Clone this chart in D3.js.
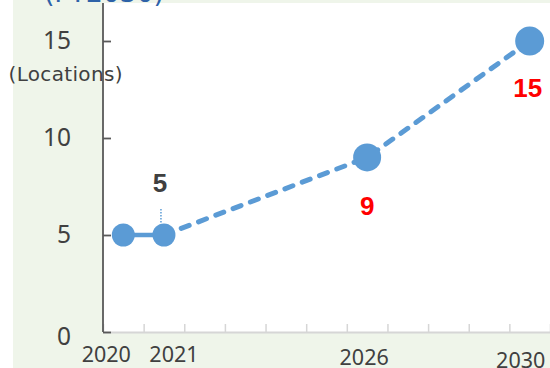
<!DOCTYPE html>
<html>
<head>
<meta charset="utf-8">
<script src="https://cdn.jsdelivr.net/npm/d3@7"></script>
<style>
  html, body { margin: 0; padding: 0; background: #ffffff; }
  svg { display: block; }
</style>
</head>
<body>
<svg id="chart" width="550" height="368"></svg>
<script>
// ---- data ----
const years = [2020, 2021, 2026, 2030];
const locations = [5, 5, 9, 15];
const actualCount = 2;               // first two points are actual results
const yTicks = [0, 5, 10, 15];
const xLabelYears = [2020, 2021, 2026, 2030];
const yAxisUnit = "(Locations)";
const titleText = "(FY2030)";

// ---- styles ----
const markerRadius = [11.5, 11.5, 14, 14.5];
const labelColors = ["#404040", "#404040", "#ff0000", "#ff0000"];
const xLabelDx = [-17, 10, -3, -9];
const xLabelDy = [0, 0, 3, 6];
const blue = "#5b9bd5";
const bg = "#eff5ea";

const svg = d3.select("#chart");
const W = 550, H = 368;

const x = d3.scaleLinear().domain([2019.5, 2030.5]).range([103, 550]);
const y = d3.scaleLinear().domain([0, 15]).range([332, 41]);

// background
svg.append("rect").attr("x", 13).attr("y", 0).attr("width", W - 13).attr("height", H).attr("fill", bg);
svg.append("rect").attr("x", x(2019.5)).attr("y", 3).attr("width", W - x(2019.5)).attr("height", y(0) - 3).attr("fill", "#ffffff");

// title (mostly cut off at top)
svg.append("text").attr("x", 44).attr("y", 2)
  .attr("font-family", "DejaVu Sans").attr("font-size", 27).attr("fill", "#2e62a8")
  .attr("textLength", 120)
  .text(titleText);

// x axis: ticks between categories, pointing up
const xTickVals = d3.range(2019.5, 2031, 1);
const xAxis = svg.append("g").attr("transform", `translate(0,${y(0)})`)
  .call(d3.axisBottom(x).tickValues(xTickVals).tickSize(-8).tickSizeOuter(0).tickFormat(""));
xAxis.select(".domain").attr("stroke", "#d6d6d6").attr("stroke-width", 2);
xAxis.selectAll(".tick line").attr("stroke", "#d6d6d6").attr("stroke-width", 1.5);

// x labels
svg.append("g").selectAll("text").data(xLabelYears).join("text")
  .attr("x", (d, i) => x(d) + xLabelDx[i])
  .attr("y", (d, i) => 362 + xLabelDy[i])
  .attr("text-anchor", "middle")
  .attr("font-family", "Noto Sans").attr("font-size", 21.5).attr("fill", "#404040")
  .text(d => d);

// y axis
const yAxis = svg.append("g").attr("transform", `translate(${x(2019.5)},0)`)
  .call(d3.axisLeft(y).tickValues(yTicks).tickSize(-8).tickSizeOuter(0).tickPadding(32));
yAxis.select(".domain").remove();
yAxis.append("line").attr("x1", 0).attr("x2", 0).attr("y1", 3).attr("y2", y(0))
  .attr("stroke", "#595959").attr("stroke-width", 1.8);
yAxis.selectAll(".tick line").attr("stroke", "#595959").attr("stroke-width", 1.8);
yAxis.selectAll(".tick text").attr("font-family", "Noto Sans").attr("font-size", 24.5).attr("fill", "#404040");
yAxis.select(".tick text").attr("dy", "0.5em");

// unit label
svg.append("text").attr("x", 65.5).attr("y", 81).attr("text-anchor", "middle")
  .attr("font-family", "DejaVu Sans").attr("font-size", 20).attr("fill", "#404040")
  .attr("textLength", 114)
  .text(yAxisUnit);

// lines
const pts = years.map((d, i) => [x(d), y(locations[i])]);
const line = d3.line();
svg.append("path").attr("d", line(pts.slice(0, actualCount)))
  .attr("fill", "none").attr("stroke", blue).attr("stroke-width", 4.5);
svg.append("path").attr("d", line(pts.slice(actualCount - 1)))
  .attr("fill", "none").attr("stroke", blue).attr("stroke-width", 5)
  .attr("stroke-linecap", "round").attr("stroke-dasharray", "8.5,10");

// leader line for label "5"
svg.append("line")
  .attr("x1", x(2021) - 3).attr("x2", x(2021) - 3)
  .attr("y1", y(5) - 26).attr("y2", y(5) - 11)
  .attr("stroke", blue).attr("stroke-width", 1.5).attr("stroke-dasharray", "1.5,1.5");

// markers
svg.append("g").selectAll("circle").data(years).join("circle")
  .attr("cx", d => x(d)).attr("cy", (d, i) => y(locations[i]))
  .attr("r", (d, i) => markerRadius[i]).attr("fill", blue);

// data labels
const labelPos = [null, [-4, -43], [0, 58], [-2, 56]];
svg.append("g").selectAll("text").data(years.map((d, i) => i).filter(i => labelPos[i])).join("text")
  .attr("x", i => x(years[i]) + labelPos[i][0])
  .attr("y", i => y(locations[i]) + labelPos[i][1])
  .attr("text-anchor", "middle")
  .attr("font-family", "Liberation Sans").attr("font-weight", "bold").attr("font-size", 26)
  .attr("fill", i => labelColors[i])
  .text(i => locations[i]);
</script>
</body>
</html>
